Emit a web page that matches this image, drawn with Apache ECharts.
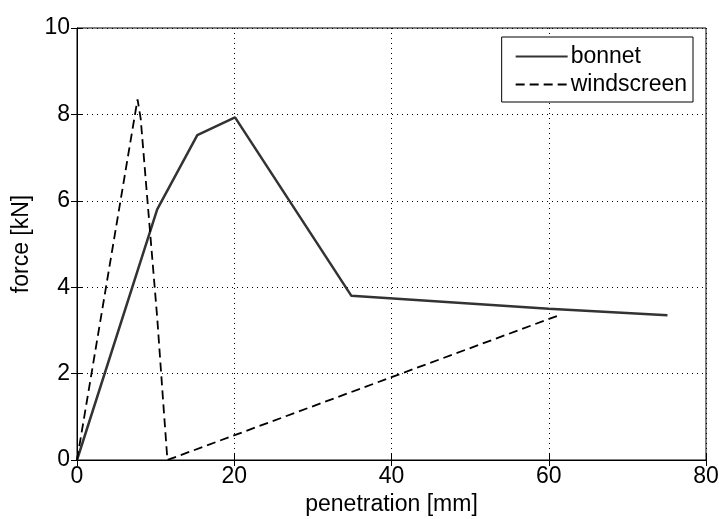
<!DOCTYPE html>
<html>
<head>
<meta charset="utf-8">
<script src="https://cdn.jsdelivr.net/npm/echarts@6/dist/echarts.min.js"></script>
<style>
  html, body { margin: 0; padding: 0; background: #fff; }
  #chart { width: 719px; height: 519px; }
</style>
</head>
<body>
<div id="chart"></div>
<script>
var bonnetX = [0, 10.2, 15.3, 20.1, 34.9, 60, 75.1];
var bonnetY = [0, 5.8, 7.52, 7.93, 3.8, 3.5, 3.35];
var windX = [0, 7.7, 8.1, 9.1, 10.2, 10.9, 11.5, 61.3];
var windY = [0, 8.35, 7.9, 5.7, 3.3, 1.5, 0, 3.35];

function pairs(xs, ys) {
  var out = [];
  for (var i = 0; i < xs.length; i++) {
    out.push([xs[i], ys[i]]);
  }
  return out;
}

var font = 'Liberation Sans, Arial, sans-serif';
var fs = 23;
var dotted = { show: true, lineStyle: { color: '#000', type: [1, 4], width: 1 } };

var chart = echarts.init(document.getElementById('chart'));
chart.setOption({
  backgroundColor: '#fff',
  animation: false,
  grid: {
    left: 77, right: 13, top: 28, bottom: 59,
    outerBoundsMode: 'none', containLabel: false,
    show: true, borderColor: '#000', borderWidth: 1
  },
  legend: {
    orient: 'vertical',
    right: 26,
    top: 37,
    itemWidth: 52,
    itemHeight: 12,
    itemGap: 5,
    padding: [8, 6, 6, 13],
    borderColor: '#000',
    borderWidth: 1,
    backgroundColor: '#fff',
    itemStyle: { opacity: 0 },
    textStyle: { fontFamily: font, fontSize: fs, color: '#000', padding: [0, 0, 0, -2] },
    data: ['bonnet', 'windscreen']
  },
  xAxis: [{
    type: 'value', min: 0, max: 80, interval: 20,
    name: 'penetration [mm]', nameLocation: 'middle', nameGap: 32,
    nameTextStyle: { fontFamily: font, fontSize: fs, color: '#000' },
    axisLine: { show: true, lineStyle: { color: '#000' } },
    axisTick: { show: true, inside: true, length: 6, lineStyle: { color: '#000' } },
    axisLabel: { fontFamily: font, fontSize: fs, color: '#000', margin: 5 },
    splitLine: dotted
  }, {
    type: 'value', min: 0, max: 80, interval: 20, position: 'top',
    axisLine: { show: true, lineStyle: { color: '#000' } },
    axisTick: { show: true, inside: true, length: 6, lineStyle: { color: '#000' } },
    axisLabel: { show: false },
    splitLine: { show: false }
  }],
  yAxis: [{
    type: 'value', min: 0, max: 10, interval: 2,
    name: 'force [kN]', nameLocation: 'middle', nameGap: 44,
    nameTextStyle: { fontFamily: font, fontSize: fs, color: '#000' },
    axisLine: { show: true, lineStyle: { color: '#000' } },
    axisTick: { show: true, inside: true, length: 6, lineStyle: { color: '#000' } },
    axisLabel: { fontFamily: font, fontSize: fs, color: '#000', margin: 7 },
    splitLine: dotted
  }, {
    type: 'value', min: 0, max: 10, interval: 2, position: 'right',
    axisLine: { show: true, lineStyle: { color: '#000' } },
    axisTick: { show: true, inside: true, length: 6, lineStyle: { color: '#000' } },
    axisLabel: { show: false },
    splitLine: { show: false }
  }],
  series: [{
    name: 'bonnet',
    type: 'line',
    symbol: 'none',
    itemStyle: { color: '#333' },
    lineStyle: { color: '#333', width: 2.5 },
    data: pairs(bonnetX, bonnetY)
  }, {
    name: 'windscreen',
    type: 'line',
    symbol: 'none',
    itemStyle: { color: '#000' },
    lineStyle: { color: '#000', width: 1.8, type: [9, 5] },
    data: pairs(windX, windY)
  }]
});
</script>
</body>
</html>
